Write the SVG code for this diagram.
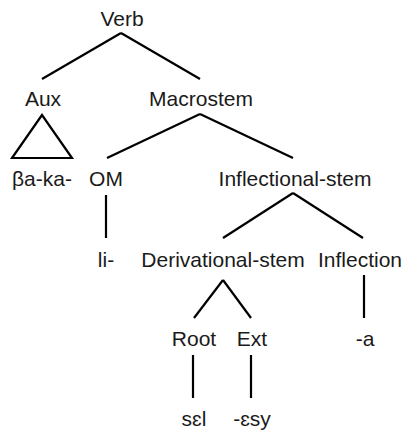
<svg xmlns="http://www.w3.org/2000/svg" width="407" height="430" viewBox="0 0 407 430">
<style>
text{font-family:"Liberation Sans",Arial,Helvetica,sans-serif;font-size:21px;fill:#1a1a1a;text-anchor:middle}
.e{stroke:#000;stroke-width:2.2;fill:none;stroke-linecap:butt}
</style>
<rect width="407" height="430" fill="#fff"/>
<g id="connectors">
<line class="e" x1="121" y1="33" x2="42" y2="79"/>
<line class="e" x1="121" y1="33" x2="200" y2="79"/>
<polygon class="e" points="42,115 12,158 72,158" stroke-linejoin="miter"/>
<line class="e" x1="200" y1="114" x2="107" y2="158"/>
<line class="e" x1="200" y1="114" x2="293" y2="158"/>
<line class="e" x1="106" y1="195" x2="106" y2="238"/>
<line class="e" x1="293" y1="193" x2="223" y2="238"/>
<line class="e" x1="293" y1="193" x2="363" y2="238"/>
<line class="e" x1="223" y1="280" x2="194" y2="318"/>
<line class="e" x1="223" y1="280" x2="251" y2="318"/>
<line class="e" x1="364" y1="275" x2="364" y2="318"/>
<line class="e" x1="193" y1="355" x2="193" y2="398"/>
<line class="e" x1="251" y1="355" x2="251" y2="398"/>
</g>
<g id="verb"><text x="122" y="26">Verb</text></g>
<g id="aux"><text x="43" y="106">Aux</text></g>
<g id="macrostem"><text x="201" y="106">Macrostem</text></g>
<g id="baka"><text x="42" y="186">βa-ka-</text></g>
<g id="om"><text x="106" y="186">OM</text></g>
<g id="inflectional-stem"><text x="295" y="186">Inflectional-stem</text></g>
<g id="li"><text x="106" y="267">li-</text></g>
<g id="derivational-stem"><text x="223" y="267">Derivational-stem</text></g>
<g id="inflection"><text x="360" y="267">Inflection</text></g>
<g id="root"><text x="194" y="346">Root</text></g>
<g id="ext"><text x="252" y="346">Ext</text></g>
<g id="a"><text x="365" y="346">-a</text></g>
<g id="sel"><text x="194" y="426">sɛl</text></g>
<g id="esy"><text x="252" y="426">-ɛsy</text></g>
</svg>
